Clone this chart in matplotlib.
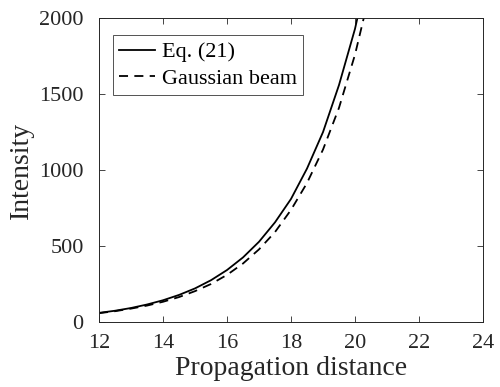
import matplotlib.pyplot as plt

# propagation distance samples
z = [12, 12.5, 13, 13.5, 14, 14.5, 15, 15.5, 16, 16.5, 17, 17.5, 18, 18.5, 19, 19.5, 20, 20.5]
# Eq. (21)
eq21 = [60, 74, 92, 115, 143, 178, 221, 275, 342, 425, 528, 656, 810, 1010, 1250, 1560, 1930, 2400]
# Gaussian beam
gauss = [58, 71, 88, 108, 133, 164, 203, 250, 310, 385, 478, 592, 738, 915, 1135, 1410, 1760, 2200]

xticks = [12, 14, 16, 18, 20, 22, 24]
yticks = [0, 500, 1000, 1500, 2000]

plt.rcParams['font.family'] = ['Liberation Serif', 'DejaVu Serif']

fig = plt.figure(figsize=(5, 3.87), dpi=100)
ax = fig.add_axes([0.198, 0.168, 0.768, 0.785])

ax.plot(z, eq21, 'k-', linewidth=1.3, label='Eq. (21)')
ax.plot(z, gauss, 'k--', linewidth=1.3, dashes=(5, 3.5), label='Gaussian beam')

ax.set_xlim(12, 24)
ax.set_ylim(0, 2000)
ax.set_xticks(xticks)
ax.set_yticks(yticks)
ax.tick_params(direction='in', top=True, right=True, labelsize=16, length=4,
               width=0.6, colors='#262626')
ax.tick_params(axis='x', pad=9)
ax.tick_params(axis='y', pad=11)
for s in ax.spines.values():
    s.set_linewidth(0.7)
    s.set_color('#262626')

ax.set_xlabel('Propagation distance', fontsize=20, color='#262626', labelpad=2)
ax.set_ylabel('Intensity', fontsize=20, color='#262626', labelpad=4)

leg = ax.legend(loc='upper left', fontsize=16, frameon=True, fancybox=False,
                edgecolor='#262626', handlelength=1.6, handletextpad=0.3,
                borderpad=0.3, labelspacing=0.25, borderaxespad=0,
                bbox_to_anchor=(0.036, 0.944))
leg.get_frame().set_linewidth(0.7)

plt.savefig('out.png')
